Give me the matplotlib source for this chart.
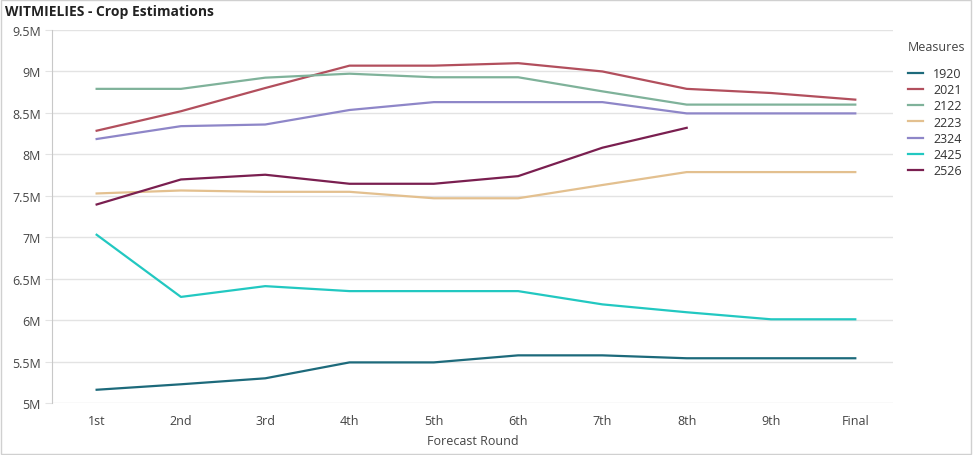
import matplotlib.pyplot as plt
from matplotlib.patches import Rectangle
from matplotlib.ticker import FuncFormatter

rounds = ['1st', '2nd', '3rd', '4th', '5th', '6th', '7th', '8th', '9th', 'Final']

s1920 = [5.16, 5.226, 5.298, 5.49, 5.49, 5.575, 5.575, 5.54, 5.54, 5.54]
s2021 = [8.285, 8.52, 8.80, 9.07, 9.07, 9.10, 9.00, 8.79, 8.74, 8.66]
s2122 = [8.79, 8.79, 8.925, 8.973, 8.93, 8.93, 8.76, 8.60, 8.60, 8.60]
s2223 = [7.528, 7.564, 7.548, 7.548, 7.47, 7.47, 7.63, 7.786, 7.786, 7.786]
s2324 = [8.185, 8.34, 8.36, 8.535, 8.63, 8.63, 8.63, 8.494, 8.494, 8.494]
s2425 = [7.03, 6.28, 6.41, 6.35, 6.35, 6.35, 6.19, 6.095, 6.01, 6.01]
s2526 = [7.395, 7.697, 7.754, 7.645, 7.645, 7.737, 8.08, 8.32]

series = [('1920', s1920, '#1d6a7b'),
          ('2021', s2021, '#b24f5d'),
          ('2122', s2122, '#7fb29a'),
          ('2223', s2223, '#e3c08f'),
          ('2324', s2324, '#8e86c8'),
          ('2425', s2425, '#22c8c1'),
          ('2526', s2526, '#7a1f50')]

plt.rcParams['font.family'] = ['Open Sans', 'DejaVu Sans']

fig = plt.figure(figsize=(9.73, 4.56), dpi=100)
ax = fig.add_axes([0.0534, 0.114, 0.8646, 0.818])

for name, vals, col in series:
    ax.plot(range(len(vals)), vals, color=col, lw=1.6, label=name)

ax.set_ylim(5, 9.5)
ax.set_xlim(-0.53, 9.45)
ax.set_yticks([5, 5.5, 6, 6.5, 7, 7.5, 8, 8.5, 9, 9.5])
ax.yaxis.set_major_formatter(FuncFormatter(lambda v, p: f'{v:g}M'))
ax.set_xticks(range(len(rounds)))
ax.set_xticklabels(rounds)
ax.grid(axis='y', color='#e3e3e3', lw=1)
ax.set_axisbelow(True)
for sp in ['top', 'right', 'bottom']:
    ax.spines[sp].set_visible(False)
ax.spines['left'].set_color('#c8c8c8')
ax.tick_params(axis='y', length=5, color='#e3e3e3', labelsize=9, labelcolor='#444444', pad=3)
ax.tick_params(axis='x', length=0, labelsize=9, labelcolor='#444444', pad=8)
ax.set_xlabel('Forecast Round', fontsize=9, color='#444444', labelpad=5)

leg = ax.legend(loc='upper left', bbox_to_anchor=(908 / 973, 1 - 41 / 456),
                bbox_transform=fig.transFigure, frameon=False,
                title='Measures', fontsize=9, title_fontsize=9,
                handlelength=1.2, handletextpad=0.8, labelspacing=0.26,
                borderaxespad=0, borderpad=0)
leg._legend_box.align = 'left'
leg._legend_box.sep = 10
leg.get_title().set_color('#444444')
for t in leg.get_texts():
    t.set_color('#333333')

fig.text(0.005, 0.973, 'WITMIELIES - Crop Estimations', fontsize=10,
         fontweight='bold', color='#222222', va='center', ha='left')

fig.patches.append(Rectangle((0.001, 0.002), 0.997, 0.995, transform=fig.transFigure,
                             fill=False, edgecolor='#d0d0d0', lw=1))

fig.savefig('out.png', dpi=100)
